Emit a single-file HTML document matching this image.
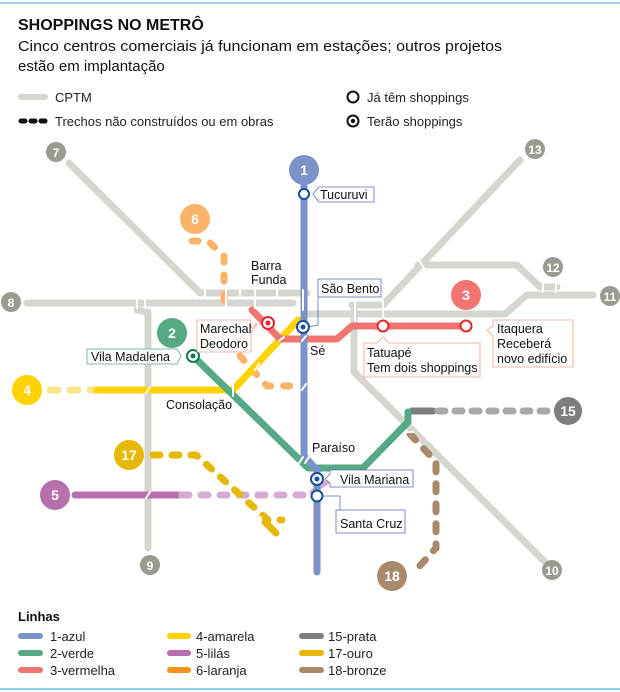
<!DOCTYPE html>
<html><head><meta charset="utf-8"><style>
html,body{margin:0;padding:0;background:#fff;}
svg{display:block;font-family:"Liberation Sans",sans-serif;}
</style></head><body>
<svg width="620" height="692" viewBox="0 0 620 692" xmlns="http://www.w3.org/2000/svg">
<line x1="0" y1="3" x2="620" y2="3" stroke="#7ec8ea" stroke-width="1.5"/>
<line x1="0" y1="689" x2="620" y2="689" stroke="#5bc5ee" stroke-width="1.5"/>
<text x="18" y="30" font-size="16" font-weight="bold" fill="#111">SHOPPINGS NO METRÔ</text>
<text x="18" y="51" font-size="15" fill="#111" textLength="484" lengthAdjust="spacingAndGlyphs">Cinco centros comerciais já funcionam em estações; outros projetos</text>
<text x="18" y="71" font-size="15" fill="#111">estão em implantação</text>
<!-- legend top -->
<line x1="21" y1="97" x2="45" y2="97" stroke="#d6d6d0" stroke-width="6" stroke-linecap="round"/>
<text x="55" y="102" font-size="13" fill="#222">CPTM</text>
<line x1="21" y1="121" x2="46" y2="121" stroke="#111" stroke-width="5" stroke-dasharray="4 6" stroke-linecap="round"/>
<text x="55" y="126" font-size="13" fill="#222">Trechos não construídos ou em obras</text>
<circle cx="353" cy="97" r="5.5" fill="none" stroke="#111" stroke-width="2"/>
<text x="367" y="102" font-size="13" fill="#222">Já têm shoppings</text>
<circle cx="353" cy="121" r="5.5" fill="none" stroke="#111" stroke-width="2"/>
<circle cx="353" cy="121" r="2.2" fill="#111"/>
<text x="367" y="126" font-size="13" fill="#222">Terão shoppings</text>

<g fill="none" stroke-linecap="round" stroke-linejoin="round">
<!-- CPTM -->
<g stroke="#d6d6d0" stroke-width="7">
<polyline points="69,163 200,293 307,293"/>
<line x1="27" y1="303" x2="293" y2="303"/>
<polyline points="137,310 148,312 148,548"/>
<polyline points="520,160 383,305 352,305"/>
<polyline points="354,305 354,372 545,562"/>
<polyline points="418,265 517,265 540,287 557,287"/>
<polyline points="307,314 505,314 527,295 593,295"/>
</g>
<!-- line 6 -->
<polyline points="192,241 208,241 224,256 224,312" stroke="#fbb36a" stroke-width="7" stroke-dasharray="6 13"/>
<polyline points="240,356 267,386 300,386" stroke="#fbb36a" stroke-width="7" stroke-dasharray="6 13"/>
<!-- line 4 -->
<line x1="50" y1="390" x2="95" y2="390" stroke="#ffe38a" stroke-width="7" stroke-dasharray="8 12"/>
<polyline points="97,390 233,390 298,320" stroke="#ffd200" stroke-width="7"/>
<!-- line 3 -->
<polyline points="252,310 280,339 337,339 352,326 467,326" stroke="#f07470" stroke-width="7"/>
<!-- line 5 -->
<line x1="75" y1="495" x2="178" y2="495" stroke="#b86fae" stroke-width="7"/>
<polyline points="182,495 312,495" stroke="#d6abd3" stroke-width="7" stroke-dasharray="7 12"/>
<line x1="312" y1="492" x2="330" y2="480" stroke="#d6abd3" stroke-width="5"/>
<!-- line 17 -->
<polyline points="153,455 196,455 268,520 282,520" stroke="#e6b800" stroke-width="7" stroke-dasharray="7 12"/>
<line x1="265" y1="522" x2="276" y2="533" stroke="#e6b800" stroke-width="7"/>
<!-- line 15 -->
<line x1="412" y1="411" x2="433" y2="411" stroke="#7d7f7d" stroke-width="7"/>
<line x1="438" y1="411" x2="553" y2="411" stroke="#a8a9a8" stroke-width="7" stroke-dasharray="7 10"/>
<!-- line 18 -->
<polyline points="410,434 436,462 436,548 416,570" stroke="#a88a6a" stroke-width="7" stroke-dasharray="8 12"/>
<!-- line 2 -->
<polyline points="193,356 308,468 363,468 408,422 408,412" stroke="#55a985" stroke-width="7"/>
<!-- line 1 -->
<polyline points="304,180 304,456 317,470 317,572" stroke="#7b93c9" stroke-width="7"/>
</g>
<!-- white ticks -->
<g stroke="#fff" stroke-width="2" stroke-linecap="round">
<line x1="205" y1="288" x2="205" y2="298"/><line x1="226" y1="288" x2="226" y2="308"/>
<line x1="240" y1="288" x2="240" y2="298"/><line x1="255" y1="288" x2="255" y2="308"/>
<line x1="277" y1="288" x2="277" y2="298"/><line x1="303" y1="290" x2="303" y2="310"/>
<line x1="137" y1="298" x2="137" y2="308"/><line x1="145" y1="298" x2="145" y2="308"/>
<line x1="355" y1="297" x2="355" y2="321"/><line x1="383" y1="301" x2="383" y2="316"/>
<line x1="420" y1="262" x2="424" y2="268"/>
<line x1="543" y1="283" x2="543" y2="292"/><line x1="556" y1="283" x2="556" y2="292"/>
<line x1="146" y1="393" x2="150" y2="387"/><line x1="146" y1="498" x2="150" y2="492"/>
<line x1="233" y1="385" x2="233" y2="396"/><line x1="255" y1="370" x2="259" y2="364"/>
<line x1="279" y1="341" x2="284" y2="337"/><line x1="302" y1="341" x2="306" y2="336"/>
<line x1="302" y1="390" x2="306" y2="384"/><line x1="257" y1="523" x2="261" y2="517"/>
<line x1="299" y1="463" x2="303" y2="457"/><line x1="305" y1="463" x2="309" y2="457"/>
<line x1="405" y1="432" x2="413" y2="432"/>
</g>
<!-- route circles -->
<g font-size="14" font-weight="bold" fill="#fff" text-anchor="middle">
<circle cx="56" cy="152" r="10" fill="#9a9a90"/><text x="56" y="157" font-size="12">7</text>
<circle cx="11" cy="302" r="10" fill="#9a9a90"/><text x="11" y="307" font-size="12">8</text>
<circle cx="150" cy="565" r="10" fill="#9a9a90"/><text x="150" y="570" font-size="12">9</text>
<circle cx="552" cy="570" r="10" fill="#9a9a90"/><text x="552" y="575" font-size="12">10</text>
<circle cx="610" cy="296" r="10" fill="#9a9a90"/><text x="610" y="301" font-size="12">11</text>
<circle cx="553" cy="267" r="10" fill="#9a9a90"/><text x="553" y="272" font-size="12">12</text>
<circle cx="535" cy="149" r="10" fill="#9a9a90"/><text x="535" y="154" font-size="12">13</text>
<circle cx="304" cy="170" r="15" fill="#7b93c9"/><text x="304" y="175">1</text>
<circle cx="172" cy="333" r="15" fill="#55a985"/><text x="172" y="338">2</text>
<circle cx="466" cy="295" r="15" fill="#f07470"/><text x="466" y="300">3</text>
<circle cx="27" cy="390" r="15" fill="#ffd200"/><text x="27" y="395">4</text>
<circle cx="55" cy="495" r="15" fill="#b86fae"/><text x="55" y="500">5</text>
<circle cx="195" cy="219" r="15" fill="#fbb36a"/><text x="195" y="224">6</text>
<circle cx="568" cy="411" r="14" fill="#7d7f7d"/><text x="568" y="416">15</text>
<circle cx="129" cy="455" r="15" fill="#e6b800"/><text x="129" y="460">17</text>
<circle cx="392" cy="576" r="15" fill="#a88a6a"/><text x="392" y="581">18</text>
</g>
<!-- stations -->
<g stroke-width="2">
<circle cx="304" cy="194" r="5" fill="#fff" stroke="#1a4f9c"/>
<circle cx="303" cy="327" r="6" fill="#fff" stroke="#1a4f9c"/><circle cx="303" cy="327" r="2.5" fill="#1a4f9c"/>
<circle cx="268" cy="323" r="6" fill="#fff" stroke="#e3262c"/><circle cx="268" cy="323" r="2.5" fill="#e3262c"/>
<circle cx="383" cy="326" r="5.5" fill="#fff" stroke="#e3262c"/>
<circle cx="466" cy="326" r="5.5" fill="#fff" stroke="#e3262c"/>
<circle cx="193" cy="356" r="6" fill="#fff" stroke="#117a55"/><circle cx="193" cy="356" r="2.5" fill="#117a55"/>
<circle cx="317" cy="479" r="6" fill="#fff" stroke="#1a4f9c"/><circle cx="317" cy="479" r="2.5" fill="#1a4f9c"/>
<circle cx="317" cy="496" r="5.5" fill="#fff" stroke="#1a4f9c"/>
</g>
<!-- labels -->
<g font-size="12.5" fill="#111">
<path d="M313,194 L319,187 H374 V202 H319 Z" fill="#fff" stroke="#5a6fb8" stroke-width="0.8"/>
<text x="320" y="199">Tucuruvi</text>
<rect x="318" y="279" width="63" height="18" fill="#fff" stroke="#5a6fb8" stroke-width="0.8"/>
<polyline points="318,297 318,325 309,327" fill="none" stroke="#5a6fb8" stroke-width="0.8"/>
<text x="321" y="293">São Bento</text>
<text x="310" y="355">Sé</text>
<text x="251" y="270">Barra</text><text x="251" y="284">Funda</text>
<path d="M197,320 H251 V328 L258,323 L251,332 V352 H197 Z" fill="#fff" stroke="#f2a08c" stroke-width="0.8"/>
<text x="200" y="333">Marechal</text><text x="200" y="348">Deodoro</text>
<path d="M87,349 H177 L181,356 L177,364 H87 Z" fill="#fff" stroke="#55a985" stroke-width="0.8"/>
<text x="91" y="361">Vila Madalena</text>
<path d="M364,343 H377 L383,337 L389,343 H480 V377 H364 Z" fill="#fff" stroke="#f2a08c" stroke-width="0.8"/>
<text x="367" y="357">Tatuapé</text><text x="367" y="372">Tem dois shoppings</text>
<path d="M493,320 H573 V367 H493 V336 L487,330 L493,326 Z" fill="#fff" stroke="#f2a08c" stroke-width="0.8"/>
<text x="497" y="333">Itaquera</text><text x="497" y="348">Receberá</text><text x="497" y="363">novo edifício</text>
<text x="166" y="409">Consolação</text>
<text x="312" y="452">Paraíso</text>
<path d="M330,470 H413 V487 H330 V483 L325,479 L330,474 Z" fill="#fff" stroke="#5a6fb8" stroke-width="0.8"/>
<text x="340" y="484">Vila Mariana</text>
<polyline points="323,496 340,496 340,510" fill="none" stroke="#5a6fb8" stroke-width="0.8"/>
<rect x="336" y="510" width="69" height="23" fill="#fff" stroke="#5a6fb8" stroke-width="0.8"/>
<text x="340" y="528">Santa Cruz</text>
</g>
<!-- bottom legend -->
<text x="18" y="621" font-size="13" font-weight="bold" fill="#111">Linhas</text>
<g stroke-width="6" stroke-linecap="round">
<line x1="21" y1="636" x2="40" y2="636" stroke="#7b93c9"/>
<line x1="21" y1="653" x2="40" y2="653" stroke="#55a985"/>
<line x1="21" y1="670" x2="40" y2="670" stroke="#f07470"/>
<line x1="170" y1="636" x2="188" y2="636" stroke="#ffd200"/>
<line x1="170" y1="653" x2="188" y2="653" stroke="#b86fae"/>
<line x1="170" y1="670" x2="188" y2="670" stroke="#f7931e"/>
<line x1="302" y1="636" x2="321" y2="636" stroke="#7d7f7d"/>
<line x1="302" y1="653" x2="321" y2="653" stroke="#e6b800"/>
<line x1="302" y1="670" x2="321" y2="670" stroke="#a88a6a"/>
</g>
<g font-size="13" fill="#222">
<text x="50" y="641">1-azul</text><text x="50" y="658">2-verde</text><text x="50" y="675">3-vermelha</text>
<text x="196" y="641">4-amarela</text><text x="196" y="658">5-lilás</text><text x="196" y="675">6-laranja</text>
<text x="328" y="641">15-prata</text><text x="328" y="658">17-ouro</text><text x="328" y="675">18-bronze</text>
</g>
</svg>
</body></html>
